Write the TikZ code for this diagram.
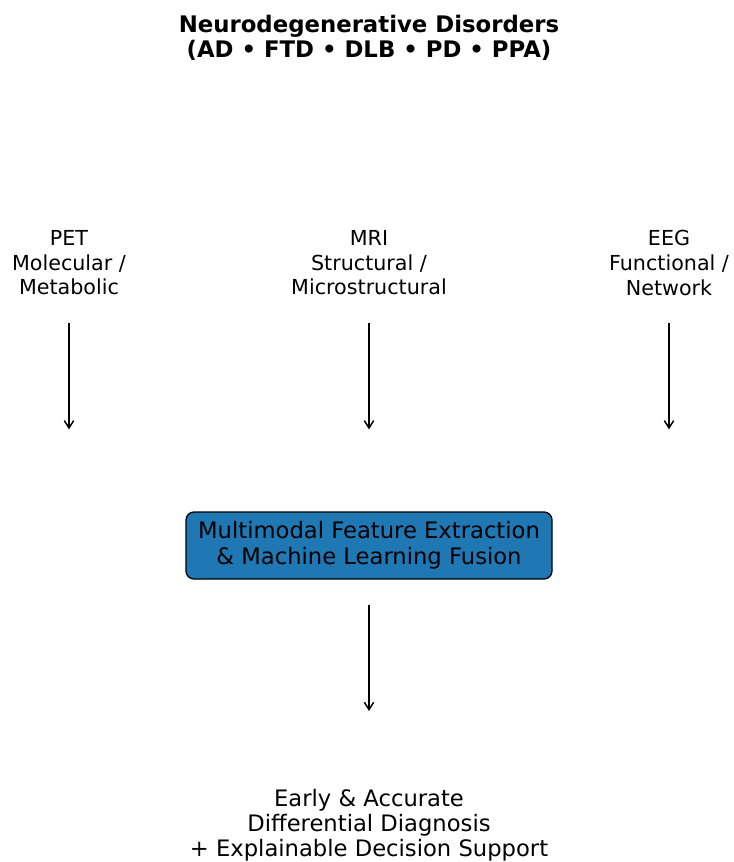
\documentclass[tikz,border=0pt]{standalone}
\usepackage{fontspec}
\setmainfont{DejaVu Sans}
\usetikzlibrary{arrows.meta,positioning,calc}
\tikzset{>={Straight Barb[length=5.5pt,width=7pt]}}
\definecolor{fuseblue}{HTML}{1F77B4}

\begin{document}
\begin{tikzpicture}[x=0.75pt,y=0.75pt,
    heading/.style={align=center,font=\fontsize{17.1}{18.75}\selectfont\bfseries},
    modality/.style={align=center,font=\fontsize{15.5}{18.4}\selectfont},
    fusionbox/.style={draw=black,fill=fuseblue,rounded corners=6pt,line width=1pt,
      minimum width=274.5pt,minimum height=50.25pt,align=center,
      font=\fontsize{17}{19.5}\selectfont},
    outcome/.style={align=center,inner sep=0pt,font=\fontsize{17}{18.9}\selectfont},
    flow/.style={->,line width=1.1pt}]

  \useasboundingbox (0,0) rectangle (733,-862);

  \node[heading] (title) at (369,-38) {Neurodegenerative Disorders\\(AD • FTD • DLB • PD • PPA)};

  \node[modality] (pet) at (69,-263) {PET\\Molecular /\\Metabolic};
  \node[modality] (mri) at (369,-263) {MRI\\Structural /\\Microstructural};
  \node[modality] (eeg) at (669,-263) {EEG\\Functional /\\Network};

  \node[fusionbox] (fusion) at (369,-545.5) {Multimodal Feature Extraction\\\& Machine Learning Fusion};

  \node[outcome] (result) at (369,-825.5) {Early \& Accurate\\Differential Diagnosis\\+ Explainable Decision Support};

  \foreach \m in {pet,mri,eeg}
    {
      \draw[flow,shorten <=45pt,shorten >=61.5pt] (\m.center) -- (\m.center |- fusion.north);
    }
  \draw[flow,shorten <=18.75pt,shorten >=85.9pt] (fusion.south) -- (result.center);
\end{tikzpicture}
\end{document}
